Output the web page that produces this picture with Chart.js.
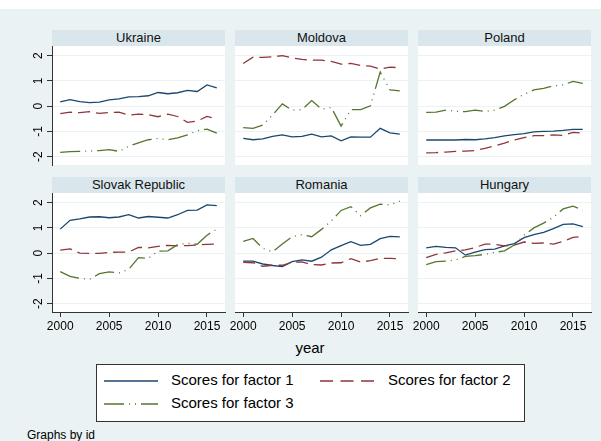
<!DOCTYPE html>
<html><head><meta charset="utf-8">
<script src="https://cdn.jsdelivr.net/npm/chart.js@4"></script>
<style>
html,body{margin:0;padding:0;}
body{width:601px;height:441px;position:relative;overflow:hidden;background:#EAF2F3;font-family:"Liberation Sans",Arial,sans-serif;}
#topstrip{position:absolute;left:0;top:0;width:601px;height:9px;background:#fff;}
.hdr{position:absolute;height:16px;background:#D9E6EB;color:#111;font-size:13px;text-align:center;line-height:16px;white-space:nowrap;}
canvas{position:absolute;}
.txt{position:absolute;white-space:nowrap;color:#000;}
#legend{position:absolute;left:96px;top:364px;width:427px;height:56px;border:1px solid #333;background:#fff;}
#legend svg{position:absolute;}
#legend span{position:absolute;font-size:15px;line-height:16px;white-space:nowrap;color:#000;}
</style></head>
<body>
<div id="topstrip"></div>
<div class="txt" style="left:280px;width:60px;text-align:center;top:340px;font-size:15px;line-height:16px;">year</div>
<div id="legend">
  <svg style="left:7px;top:8px" width="56" height="16"><line x1="0" y1="8" x2="54" y2="8" stroke="#1A476F" stroke-width="1.3"/></svg>
  <span style="left:74px;top:7px">Scores for factor 1</span>
  <svg style="left:223px;top:8px" width="56" height="16"><line x1="0" y1="8" x2="54" y2="8" stroke="#90353B" stroke-width="1.3" stroke-dasharray="13 7.5"/></svg>
  <span style="left:291px;top:7px">Scores for factor 2</span>
  <svg style="left:7px;top:31px" width="56" height="16"><line x1="0" y1="8" x2="54" y2="8" stroke="#55752F" stroke-width="1.3" stroke-dasharray="20 5 1 5 1 5"/></svg>
  <span style="left:74px;top:30px">Scores for factor 3</span>
</div>
<div class="txt" style="left:27px;top:428px;font-size:12px;line-height:14px;">Graphs by id</div>
<script>
const years = [2000,2001,2002,2003,2004,2005,2006,2007,2008,2009,2010,2011,2012,2013,2014,2015,2016];
const countries = ["Ukraine","Moldova","Poland","Slovak Republic","Romania","Hungary"];
const seriesNames = ["Scores for factor 1","Scores for factor 2","Scores for factor 3"];
const xTickLabels = [2000,2005,2010,2015];
const yTickLabels = [-2,-1,0,1,2];

const ukraineF1 = [0.17,0.26,0.18,0.14,0.16,0.25,0.29,0.37,0.38,0.41,0.54,0.49,0.53,0.62,0.58,0.84,0.72];
const ukraineF2 = [-0.30,-0.24,-0.26,-0.22,-0.29,-0.25,-0.24,-0.36,-0.32,-0.34,-0.42,-0.32,-0.41,-0.64,-0.59,-0.41,-0.50];
const ukraineF3 = [-1.83,-1.80,-1.79,-1.78,-1.76,-1.72,-1.79,-1.59,-1.45,-1.33,-1.28,-1.33,-1.26,-1.14,-0.97,-0.91,-1.07];

const moldovaF1 = [-1.28,-1.33,-1.30,-1.20,-1.14,-1.22,-1.20,-1.11,-1.22,-1.18,-1.37,-1.22,-1.23,-1.23,-0.88,-1.06,-1.11];
const moldovaF2 = [1.69,1.94,1.93,1.95,2.00,1.91,1.85,1.82,1.82,1.77,1.66,1.69,1.61,1.58,1.47,1.54,1.52];
const moldovaF3 = [-0.85,-0.88,-0.75,-0.35,0.09,-0.16,-0.14,0.22,-0.12,-0.05,-0.79,-0.14,-0.14,0.01,1.35,0.64,0.60];

const polandF1 = [-1.34,-1.34,-1.34,-1.34,-1.32,-1.33,-1.30,-1.25,-1.18,-1.13,-1.09,-1.02,-1.00,-0.99,-0.96,-0.92,-0.92];
const polandF2 = [-1.85,-1.84,-1.82,-1.79,-1.78,-1.76,-1.67,-1.57,-1.46,-1.34,-1.25,-1.17,-1.17,-1.14,-1.16,-1.04,-1.07];
const polandF3 = [-0.25,-0.24,-0.16,-0.20,-0.22,-0.16,-0.21,-0.16,-0.01,0.25,0.47,0.64,0.70,0.80,0.84,0.98,0.90];

const slovakF1 = [0.95,1.30,1.36,1.43,1.44,1.40,1.43,1.52,1.39,1.45,1.42,1.39,1.52,1.69,1.70,1.91,1.88];
const slovakF2 = [0.12,0.17,0.00,-0.01,-0.01,0.03,0.04,0.04,0.23,0.21,0.27,0.31,0.29,0.30,0.32,0.35,0.36];
const slovakF3 = [-0.73,-0.92,-1.00,-1.04,-0.81,-0.74,-0.79,-0.64,-0.18,-0.21,0.08,0.09,0.34,0.39,0.35,0.71,0.95];

const romaniaF1 = [-0.32,-0.32,-0.43,-0.49,-0.53,-0.34,-0.27,-0.32,-0.16,0.13,0.30,0.45,0.31,0.35,0.57,0.66,0.64];
const romaniaF2 = [-0.36,-0.38,-0.52,-0.48,-0.48,-0.36,-0.35,-0.45,-0.47,-0.39,-0.38,-0.22,-0.35,-0.30,-0.21,-0.21,-0.22];
const romaniaF3 = [0.47,0.58,0.19,0.05,0.36,0.65,0.73,0.65,0.94,1.27,1.69,1.84,1.48,1.79,1.94,1.91,2.06];

const hungaryF1 = [0.21,0.27,0.23,0.21,-0.08,0.04,0.14,0.16,0.29,0.38,0.61,0.73,0.82,0.97,1.14,1.16,1.05];
const hungaryF2 = [-0.18,-0.05,0.01,0.09,0.13,0.22,0.36,0.35,0.29,0.32,0.44,0.39,0.40,0.36,0.47,0.62,0.66];
const hungaryF3 = [-0.45,-0.34,-0.32,-0.27,-0.13,-0.10,-0.05,0.03,0.09,0.32,0.71,1.00,1.19,1.42,1.75,1.86,1.70];

const panelSeries = [
  [ukraineF1, ukraineF2, ukraineF3],
  [moldovaF1, moldovaF2, moldovaF3],
  [polandF1, polandF2, polandF3],
  [slovakF1, slovakF2, slovakF3],
  [romaniaF1, romaniaF2, romaniaF3],
  [hungaryF1, hungaryF2, hungaryF3]
];

const colors = ["#1A476F","#90353B","#55752F"];
const dashes = [[], [12,6], [20,5,1,5,1,5]];

const colLeft = [52, 235, 418];
const rowTop = [46, 193];
const PW = 173, PH = 119;
const PADL = 51, PADR = 12, PADT = 14, PADB = 32;
const FONT = '"Liberation Sans", Arial, sans-serif';

const plotBg = {
  id: 'plotBg',
  beforeDraw(chart) {
    const {ctx, chartArea: a} = chart;
    ctx.save();
    ctx.fillStyle = '#ffffff';
    ctx.fillRect(a.left, a.top, a.right - a.left, a.bottom - a.top);
    ctx.restore();
  }
};

countries.forEach((name, idx) => {
  const col = idx % 3, row = Math.floor(idx / 3);
  const showY = col === 0, showX = row === 1;
  const L = colLeft[col], T = rowTop[row];

  const hdr = document.createElement('div');
  hdr.className = 'hdr';
  hdr.style.left = L + 'px';
  hdr.style.top = (T - 16.5) + 'px';
  hdr.style.width = PW + 'px';
  hdr.style.height = '16.5px';
  hdr.textContent = name;
  document.body.appendChild(hdr);

  const cv = document.createElement('canvas');
  const W = PW + PADL + PADR, H = PH + PADT + PADB;
  cv.width = W; cv.height = H;
  cv.style.left = (L - PADL) + 'px';
  cv.style.top = (T - PADT) + 'px';
  cv.style.width = W + 'px'; cv.style.height = H + 'px';
  document.body.appendChild(cv);

  const datasets = panelSeries[idx].map((vals, k) => ({
    label: seriesNames[k],
    data: years.map((yr, i) => ({x: yr, y: vals[i]})),
    borderColor: colors[k],
    borderWidth: 1.3,
    borderDash: dashes[k],
    pointRadius: 0,
    fill: false,
    tension: 0,
    order: 3 - k
  }));

  new Chart(cv, {
    type: 'line',
    data: {datasets},
    plugins: [plotBg],
    options: {
      responsive: false,
      animation: false,
      devicePixelRatio: 1,
      layout: {padding: {left: showY ? 0 : PADL, right: PADR, top: PADT, bottom: showX ? 0 : PADB}},
      plugins: {legend: {display: false}, tooltip: {enabled: false}},
      scales: {
        x: {
          type: 'linear',
          min: 1999.16, max: 2016.84,
          display: showX,
          afterBuildTicks: s => { s.ticks = xTickLabels.map(v => ({value: v})); },
          afterFit: s => { s.height = showX ? PADB : 0; },
          grid: {drawOnChartArea: false, drawTicks: true, tickLength: 5, tickColor: '#333', lineWidth: 1},
          border: {display: true, color: '#333', width: 1},
          ticks: {autoSkip: false, maxRotation: 0, minRotation: 0, padding: 2, color: '#000',
                  font: {family: FONT, size: 12}, callback: v => String(v)}
        },
        y: {
          type: 'linear',
          min: -2.33, max: 2.38,
          display: true,
          afterBuildTicks: s => { s.ticks = yTickLabels.map(v => ({value: v})); },
          afterFit: s => { s.width = showY ? PADL : 0; },
          grid: {display: true, drawOnChartArea: true, color: '#EAF2F3', lineWidth: 1,
                 drawTicks: showY, tickLength: 5, tickColor: '#333'},
          border: {display: showY, color: '#333', width: 1},
          ticks: {display: showY, minRotation: 90, maxRotation: 90, crossAlign: 'center', padding: 3,
                  color: '#000', font: {family: FONT, size: 12}, callback: v => String(v)}
        }
      }
    }
  });
});
</script>
</body></html>
